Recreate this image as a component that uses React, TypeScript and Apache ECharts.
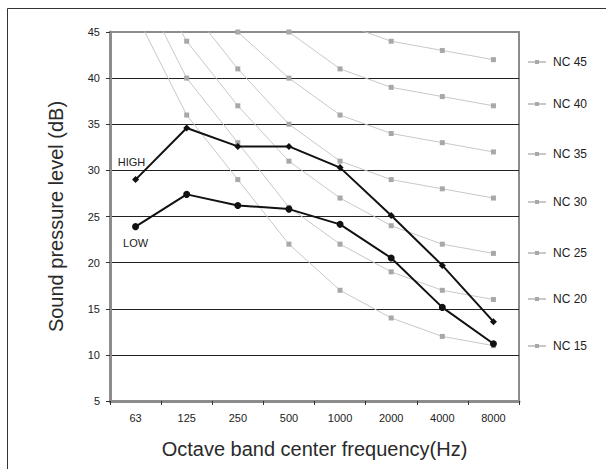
import React, { useEffect, useRef } from "react";
import * as echarts from "echarts";

const categories = ["63", "125", "250", "500", "1000", "2000", "4000", "8000"];
const highValues = [29, 34.6, 32.6, 32.6, 30.3, 25.1, 19.7, 13.6];
const lowValues = [23.9, 27.4, 26.2, 25.8, 24.15, 20.5, 15.15, 11.2];
const nc45 = [67, 60, 54, 49, 46, 44, 43, 42];
const nc40 = [64, 56, 50, 45, 41, 39, 38, 37];
const nc35 = [60, 52, 45, 40, 36, 34, 33, 32];
const nc30 = [57, 48, 41, 35, 31, 29, 28, 27];
const nc25 = [54, 44, 37, 31, 27, 24, 22, 21];
const nc20 = [51, 40, 33, 26, 22, 19, 17, 16];
const nc15 = [47, 36, 29, 22, 17, 14, 12, 11];
const ncNames = ["NC 45", "NC 40", "NC 35", "NC 30", "NC 25", "NC 20", "NC 15"];
const ncSeries = [nc45, nc40, nc35, nc30, nc25, nc20, nc15];
const legendTops = [62, 104, 154, 202, 253, 299, 346];

const FONT = "'Liberation Sans', Arial, sans-serif";

export default function App() {
  const ref = useRef<HTMLDivElement>(null);
  useEffect(() => {
    if (!ref.current) return;
    const chart = echarts.init(ref.current, undefined, { renderer: "svg" });
    const ncs = ncNames.map((name, i) => ({
      name,
      type: "line",
      data: ncSeries[i],
      clip: true,
      symbol: "rect",
      symbolSize: 5,
      lineStyle: { color: "#c8c8c8", width: 1 },
      itemStyle: { color: "#a8a8a8" },
      z: 2,
    }));
    const legends = ncNames.map((name, i) => ({
      data: [name],
      orient: "vertical",
      left: 527,
      top: legendTops[i] - 6,
      padding: 0,
      itemWidth: 18,
      itemHeight: 5,
      itemGap: 0,
      selectedMode: false,
      textStyle: { fontSize: 12, color: "#222", fontFamily: FONT, padding: [0, 0, 0, 2] },
    }));
    chart.setOption({
      animation: false,
      textStyle: { fontFamily: FONT },
      legend: legends,
      graphic: [
        {
          type: "rect",
          shape: { x: 7.5, y: 8.5, width: 700, height: 600 },
          style: { fill: "none", stroke: "#333", lineWidth: 1 },
          silent: true,
        },
      ],
      grid: {
        left: 110,
        right: 87,
        top: 32,
        bottom: 68,
        show: true,
        borderColor: "#8c8c8c",
        borderWidth: 2,
      },
      xAxis: {
        type: "category",
        data: categories,
        boundaryGap: true,
        name: "Octave band center frequency(Hz)",
        nameLocation: "middle",
        nameGap: 38,
        nameTextStyle: { fontSize: 20, color: "#2a2a2a", fontFamily: FONT },
        axisLine: { show: true, lineStyle: { color: "#8c8c8c", width: 3 } },
        axisTick: { show: true, length: 4, interval: 0, lineStyle: { color: "#333" } },
        axisLabel: { fontSize: 11, color: "#222", margin: 11, fontFamily: FONT },
        splitLine: { show: false },
      },
      yAxis: {
        type: "value",
        min: 5,
        max: 45,
        interval: 5,
        name: "Sound pressure level (dB)",
        nameLocation: "middle",
        nameGap: 44,
        nameTextStyle: { fontSize: 20, color: "#2a2a2a", fontFamily: FONT },
        axisLine: { show: true, lineStyle: { color: "#8c8c8c", width: 3 } },
        axisTick: { show: true, length: 4, lineStyle: { color: "#333" } },
        axisLabel: { fontSize: 11, color: "#222", margin: 10, fontFamily: FONT },
        splitLine: {
          show: true,
          showMinLine: false,
          showMaxLine: false,
          lineStyle: { color: "#222", width: 1 },
        },
      },
      series: [
        ...ncs,
        {
          name: "HIGH",
          type: "line",
          data: highValues.map((v, i) =>
            i === 0
              ? {
                  value: v,
                  label: {
                    show: true,
                    formatter: "HIGH",
                    position: "top",
                    distance: 9,
                    offset: [-4, 0],
                    fontSize: 11,
                    color: "#222",
                    fontFamily: FONT,
                  },
                }
              : v
          ),
          symbol: "diamond",
          symbolSize: 7,
          lineStyle: { color: "#111", width: 2 },
          itemStyle: { color: "#111" },
          z: 5,
        },
        {
          name: "LOW",
          type: "line",
          data: lowValues.map((v, i) =>
            i === 0
              ? {
                  value: v,
                  label: {
                    show: true,
                    formatter: "LOW",
                    position: "bottom",
                    distance: 7,
                    fontSize: 11,
                    color: "#222",
                    fontFamily: FONT,
                  },
                }
              : v
          ),
          symbol: "circle",
          symbolSize: 7,
          lineStyle: { color: "#111", width: 2 },
          itemStyle: { color: "#111" },
          z: 5,
        },
      ],
    });
    return () => chart.dispose();
  }, []);
  return (
    <div
      ref={ref}
      style={{ position: "fixed", left: 0, top: 0, width: 606, height: 469, background: "#fff" }}
    />
  );
}
